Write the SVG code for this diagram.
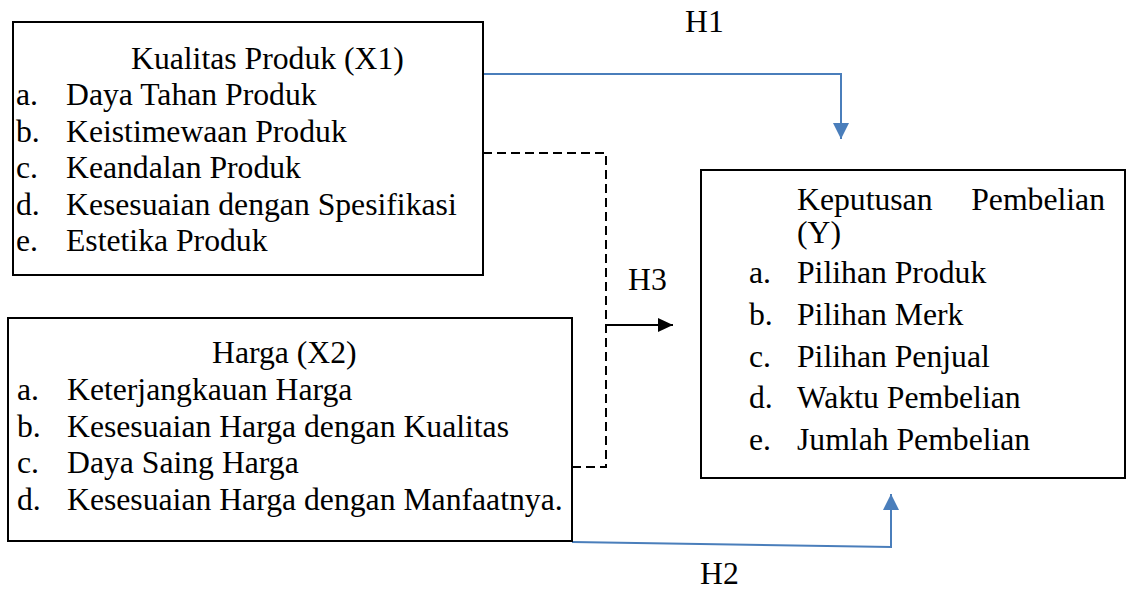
<svg xmlns="http://www.w3.org/2000/svg" width="1135" height="590" viewBox="0 0 1135 590">
<style>
  text { font-size: 31.7px; fill: #000; }
  .box { fill: #fff; stroke: #000; stroke-width: 2; }
  .blue { fill: none; stroke: #4a7ebb; stroke-width: 2; }
  .dash { fill: none; stroke: #000; stroke-width: 2; stroke-dasharray: 9 5; }
  .solid { fill: none; stroke: #000; stroke-width: 2; }
</style>
<defs>
  <marker id="arrBlue" markerWidth="16" markerHeight="16" refX="16" refY="8" orient="auto" markerUnits="userSpaceOnUse">
    <path d="M0,0 L16,8 L0,16 Z" fill="#4a7ebb"/>
  </marker>
  <marker id="arrBlack" markerWidth="16" markerHeight="14" refX="15" refY="7" orient="auto" markerUnits="userSpaceOnUse">
    <path d="M0,0 L15,7 L0,14 Z" fill="#000"/>
  </marker>
</defs>
<rect width="1135" height="590" fill="#fff"/>

<g font-family="Liberation Serif, Times New Roman, DejaVu Serif, serif">
<g id="connectors">
  <polyline class="blue" points="483,74 841,74 841,139" marker-end="url(#arrBlue)"/>
  <polyline class="dash" points="483,153 606,153 606,467 572,467"/>
  <line class="solid" x1="606" y1="325" x2="673" y2="325" marker-end="url(#arrBlack)"/>
  <polyline class="blue" points="572,542 891,547 891,494" marker-end="url(#arrBlue)"/>
  <text x="685" y="32">H1</text>
  <text x="628" y="290">H3</text>
  <text x="700" y="584">H2</text>
</g>

<g id="node-x1">
  <rect class="box" x="13" y="22" width="470" height="253"/>
  <text x="131" y="68.5">Kualitas Produk (X1)</text>
  <text x="16" y="105">a.</text><text x="66" y="105">Daya Tahan Produk</text>
  <text x="16" y="141.5">b.</text><text x="66" y="141.5">Keistimewaan Produk</text>
  <text x="16" y="178">c.</text><text x="66" y="178">Keandalan Produk</text>
  <text x="16" y="214.5">d.</text><text x="66" y="214.5">Kesesuaian dengan Spesifikasi</text>
  <text x="16" y="251">e.</text><text x="66" y="251">Estetika Produk</text>
</g>

<g id="node-x2">
  <rect class="box" x="8" y="318" width="564" height="223"/>
  <text x="212" y="363">Harga (X2)</text>
  <text x="17" y="400">a.</text><text x="67" y="400">Keterjangkauan Harga</text>
  <text x="17" y="437">b.</text><text x="67" y="437">Kesesuaian Harga dengan Kualitas</text>
  <text x="17" y="473">c.</text><text x="67" y="473">Daya Saing Harga</text>
  <text x="17" y="510">d.</text><text x="67" y="510">Kesesuaian Harga dengan Manfaatnya.</text>
</g>

<g id="node-y">
  <rect class="box" x="701" y="170" width="424" height="308"/>
  <text x="797" y="210">Keputusan</text>
  <text x="1105" y="210" text-anchor="end">Pembelian</text>
  <text x="797" y="243">(Y)</text>
  <text x="749" y="283">a.</text><text x="797" y="283">Pilihan Produk</text>
  <text x="749" y="325">b.</text><text x="797" y="325">Pilihan Merk</text>
  <text x="749" y="367">c.</text><text x="797" y="367">Pilihan Penjual</text>
  <text x="749" y="408">d.</text><text x="797" y="408">Waktu Pembelian</text>
  <text x="749" y="450">e.</text><text x="797" y="450">Jumlah Pembelian</text>
</g>
</g>
</svg>
